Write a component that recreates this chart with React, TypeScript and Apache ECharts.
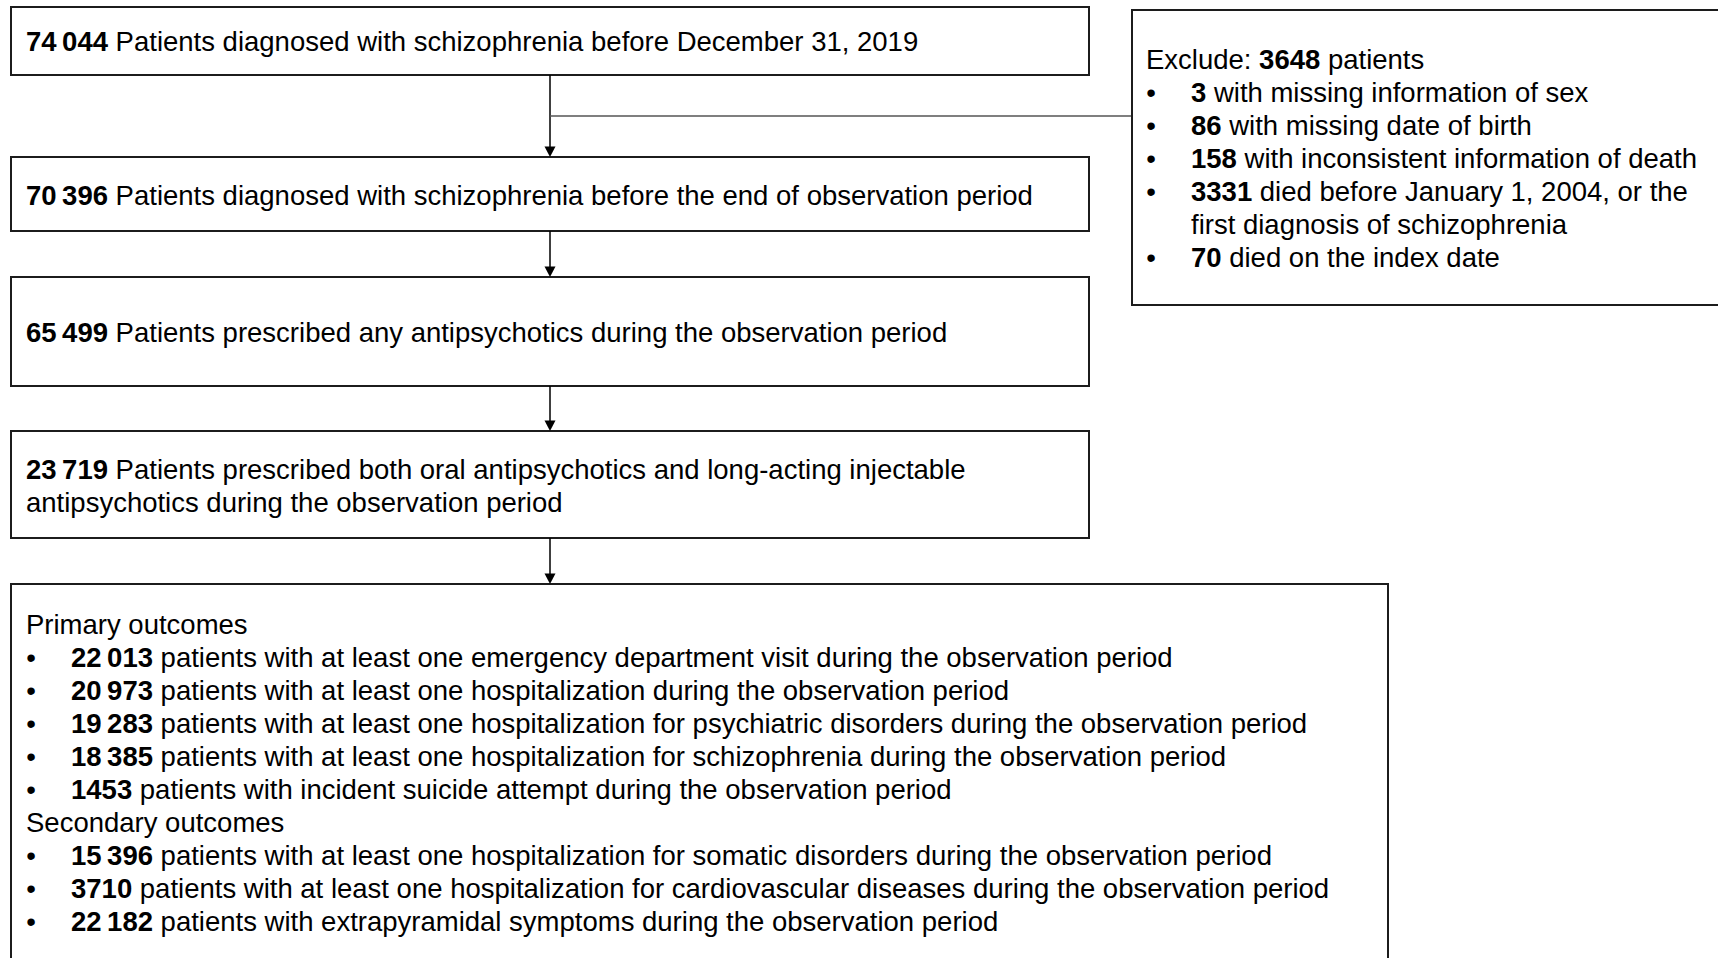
import React, { useEffect, useRef } from "react";
import * as echarts from "echarts";

// ---- data ----
const flowCounts = ["74 044", "70 396", "65 499", "23 719"];
const flowLabels = [
  "Patients diagnosed with schizophrenia before December 31, 2019",
  "Patients diagnosed with schizophrenia before the end of observation period",
  "Patients prescribed any antipsychotics during the observation period",
  "Patients prescribed both oral antipsychotics and long-acting injectable\nantipsychotics during the observation period",
];
const excludedTotal = "3648";
const excludeCounts = ["3", "86", "158", "3331", "70"];
const excludeLabels = [
  "with missing information of sex",
  "with missing date of birth",
  "with inconsistent information of death",
  "died before January 1, 2004, or the\nfirst diagnosis of schizophrenia",
  "died on the index date",
];
const primaryTitle = "Primary outcomes";
const primaryCounts = ["22 013", "20 973", "19 283", "18 385", "1453"];
const primaryLabels = [
  "patients with at least one emergency department visit during the observation period",
  "patients with at least one hospitalization during the observation period",
  "patients with at least one hospitalization for psychiatric disorders during the observation period",
  "patients with at least one hospitalization for schizophrenia during the observation period",
  "patients with incident suicide attempt during the observation period",
];
const secondaryTitle = "Secondary outcomes";
const secondaryCounts = ["15 396", "3710", "22 182"];
const secondaryLabels = [
  "patients with at least one hospitalization for somatic disorders during the observation period",
  "patients with at least one hospitalization for cardiovascular diseases during the observation period",
  "patients with extrapyramidal symptoms during the observation period",
];

// ---- layout ----
const FONT = "'Liberation Sans', Arial, Helvetica, sans-serif";
const FS = 27.5;
const LH = 33;
const TEXT_COLOR = "#000";
const BORDER = "#1c1c1c";

const boxes = [
  { y: 7, h: 68, textY: 41 },
  { y: 157, h: 74, textY: 195.5 },
  { y: 277, h: 109, textY: 332.5 },
  { y: 431, h: 107, textY: 469.5 },
];
const BOX_X = 11;
const BOX_W = 1078;
const ARROW_X = 550;

const fmt = (n: string) => n.replace(" ", "\u2009");

function richText(x: number, yCenter: number, bold: string, rest: string) {
  return {
    type: "text",
    x,
    y: yCenter - LH / 2,
    style: {
      text: (bold ? `{b|${fmt(bold)}} ` : "") + rest,
      fill: TEXT_COLOR,
      fontSize: FS,
      fontFamily: FONT,
      lineHeight: LH,
      align: "left",
      verticalAlign: "top",
      rich: {
        b: { fontWeight: "bold", fontSize: FS, fontFamily: FONT, lineHeight: LH, fill: TEXT_COLOR },
      },
    },
  };
}

function bullet(x: number, yCenter: number) {
  return {
    type: "text",
    x,
    y: yCenter,
    style: {
      text: "•",
      fill: TEXT_COLOR,
      fontSize: FS,
      fontFamily: FONT,
      align: "center",
      verticalAlign: "middle",
    },
  };
}

function arrow(y1: number, y2: number) {
  return [
    {
      type: "line",
      shape: { x1: ARROW_X, y1, x2: ARROW_X, y2: y2 - 9 },
      style: { stroke: "#000", lineWidth: 1.5 },
    },
    {
      type: "polygon",
      shape: { points: [[ARROW_X - 5.5, y2 - 10.5], [ARROW_X + 5.5, y2 - 10.5], [ARROW_X, y2]] },
      style: { fill: "#000" },
    },
  ];
}

export default function App() {
  const ref = useRef<HTMLDivElement>(null);
  useEffect(() => {
    if (!ref.current) return;
    const chart = echarts.init(ref.current, null, { renderer: "svg" });
    const els: any[] = [];

    els.push({ type: "rect", shape: { x: 0, y: 0, width: 1718, height: 958 }, style: { fill: "#fff" } });

    // flow boxes
    boxes.forEach((b, i) => {
      els.push({
        type: "rect",
        shape: { x: BOX_X, y: b.y, width: BOX_W, height: b.h },
        style: { fill: "#fff", stroke: BORDER, lineWidth: 2 },
      });
      els.push(richText(26, b.textY, flowCounts[i], flowLabels[i]));
    });

    // outcomes box
    const outY = 584;
    els.push({
      type: "rect",
      shape: { x: BOX_X, y: outY, width: 1377, height: 400 },
      style: { fill: "#fff", stroke: BORDER, lineWidth: 2 },
    });

    // arrows
    els.push(...arrow(75, 157));
    els.push(...arrow(231, 277));
    els.push(...arrow(386, 431));
    els.push(...arrow(538, 584));

    // connector to exclusion box
    els.push({
      type: "line",
      shape: { x1: ARROW_X, y1: 116, x2: 1132, y2: 116 },
      style: { stroke: "#555", lineWidth: 1.3 },
    });

    // exclusion box
    els.push({
      type: "rect",
      shape: { x: 1132, y: 10, width: 620, height: 295 },
      style: { fill: "#fff", stroke: BORDER, lineWidth: 2 },
    });
    els.push({
      type: "text",
      x: 1146,
      y: 59.5 - LH / 2,
      style: {
        text: `Exclude: {b|${excludedTotal}} patients`,
        fill: TEXT_COLOR,
        fontSize: FS,
        fontFamily: FONT,
        lineHeight: LH,
        align: "left",
        verticalAlign: "top",
        rich: { b: { fontWeight: "bold", fontSize: FS, fontFamily: FONT, lineHeight: LH, fill: TEXT_COLOR } },
      },
    });
    let ly = 92.5;
    excludeCounts.forEach((c, i) => {
      els.push(bullet(1151, ly));
      els.push(richText(1191, ly, c, excludeLabels[i]));
      ly += LH * excludeLabels[i].split("\n").length;
    });

    // outcomes
    let oy = 624.5;
    const plain = (t: string, y: number) => ({
      type: "text",
      x: 26,
      y: y - LH / 2,
      style: { text: t, fill: TEXT_COLOR, fontSize: FS, fontFamily: FONT, lineHeight: LH, align: "left", verticalAlign: "top" },
    });
    els.push(plain(primaryTitle, oy));
    oy += LH;
    primaryCounts.forEach((c, i) => {
      els.push(bullet(31, oy));
      els.push(richText(71, oy, c, primaryLabels[i]));
      oy += LH;
    });
    els.push(plain(secondaryTitle, oy));
    oy += LH;
    secondaryCounts.forEach((c, i) => {
      els.push(bullet(31, oy));
      els.push(richText(71, oy, c, secondaryLabels[i]));
      oy += LH;
    });

    chart.setOption({ animation: false, graphic: { elements: els } });
    return () => chart.dispose();
  }, []);
  return (
    <div
      ref={ref}
      style={{ position: "fixed", left: 0, top: 0, width: 1718, height: 958, background: "#fff" }}
    />
  );
}
